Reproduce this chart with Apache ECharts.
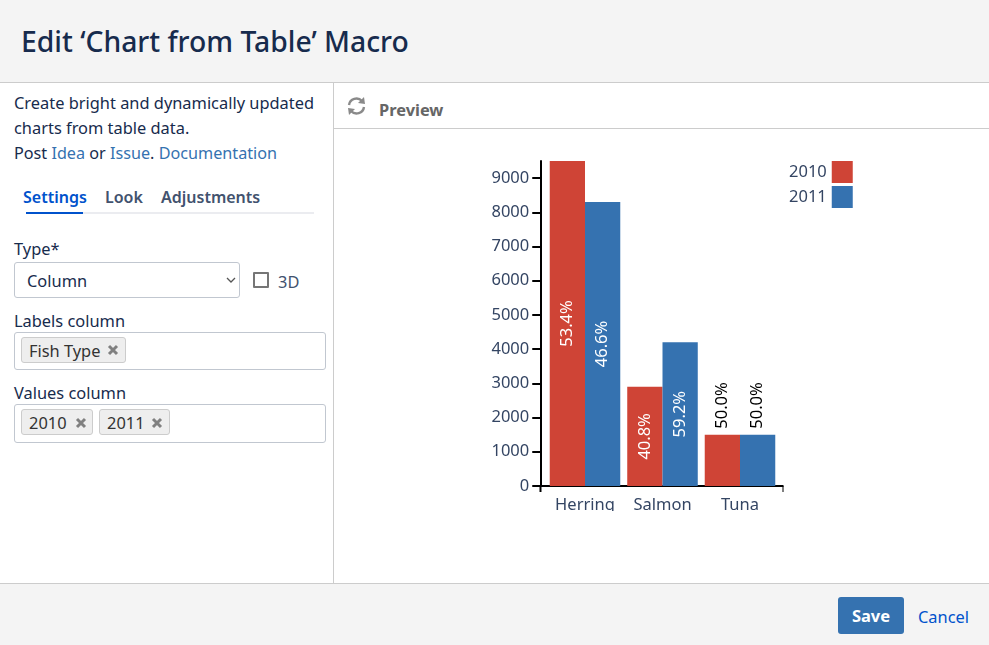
<!DOCTYPE html>
<html>
<head>
<meta charset="UTF-8">
<title>Edit 'Chart from Table' Macro</title>
<script src="https://cdn.jsdelivr.net/npm/echarts@6/dist/echarts.min.js"></script>
<style>
html, body { margin: 0; padding: 0; width: 989px; height: 645px; overflow: hidden; background: #fff; }
body { font-family: "Noto Sans", "Open Sans", sans-serif; font-size: 16.4px; color: #172b4d; position: relative; }
.abs { position: absolute; white-space: nowrap; line-height: 22px; }
.box { position: absolute; box-sizing: border-box; border: 1px solid #c1c7d0; border-radius: 3px; background: #fff; }
.chip { position: absolute; box-sizing: border-box; height: 26px; border: 1px solid #ccc; border-radius: 3px; background: #eee; }
.x { position: absolute; }
a { color: #3572b0; text-decoration: none; }
#main { position: absolute; left: 334px; top: 129px; width: 655px; height: 382px; }
</style>
</head>
<body>
<!-- header -->
<div style="position:absolute;left:0;top:0;width:989px;height:82px;background:#f4f4f4;border-bottom:1px solid #ccc"></div>
<div class="abs" style="left:21px;top:24px;font-size:28.3px;line-height:34px;font-weight:500">Edit ‘Chart from Table’ Macro</div>

<!-- left panel -->
<div style="position:absolute;left:333px;top:83px;width:1px;height:500px;background:#ccc"></div>
<div class="abs" style="left:14px;top:92px">Create bright and dynamically updated</div>
<div class="abs" style="left:14px;top:117px">charts from table data.</div>
<div class="abs" style="left:14px;top:142px;font-size:16.2px">Post <a>Idea</a> or <a>Issue</a>. <a>Documentation</a></div>

<div class="abs" style="left:23px;top:186px;font-size:16px;font-weight:600;color:#0052cc">Settings</div>
<div class="abs" style="left:105px;top:186px;font-size:16px;font-weight:600;color:#42526e">Look</div>
<div class="abs" style="left:161px;top:186px;font-size:16px;font-weight:600;color:#42526e">Adjustments</div>
<div style="position:absolute;left:26px;top:212px;width:288px;height:2px;background:#ebecf0"></div>
<div style="position:absolute;left:26px;top:212px;width:57px;height:2px;background:#0052cc"></div>

<div class="abs" style="left:14px;top:238px">Type*</div>
<div class="box" style="left:14px;top:262px;width:226px;height:36px"></div>
<div class="abs" style="left:27px;top:270px">Column</div>
<svg style="position:absolute;left:226px;top:277px" width="10" height="6"><path d="M1 1 L5 5 L9 1" fill="none" stroke="#555" stroke-width="1.3"/></svg>
<div style="position:absolute;left:253px;top:272px;width:12px;height:12px;border:2px solid #767676;border-radius:1px"></div>
<div class="abs" style="left:278px;top:271px;color:#42526e">3D</div>

<div class="abs" style="left:14px;top:310px">Labels column</div>
<div class="box" style="left:14px;top:332px;width:312px;height:38px"></div>
<div class="chip" style="left:21px;top:337px;width:105px"></div>
<div class="abs" style="left:29px;top:340px;color:#333">Fish Type</div>
<svg class="x" style="left:107px;top:344px" width="12" height="12"><path d="M2 2 L10 10 M10 2 L2 10" stroke="#808080" stroke-width="3"/></svg>

<div class="abs" style="left:14px;top:382px">Values column</div>
<div class="box" style="left:14px;top:404px;width:312px;height:39px"></div>
<div class="chip" style="left:21px;top:409px;width:72px"></div>
<div class="abs" style="left:29px;top:412px;color:#333">2010</div>
<svg class="x" style="left:75px;top:417px" width="12" height="12"><path d="M2 2 L10 10 M10 2 L2 10" stroke="#808080" stroke-width="3"/></svg>
<div class="chip" style="left:99px;top:409px;width:71px"></div>
<div class="abs" style="left:107px;top:412px;color:#333">2011</div>
<svg class="x" style="left:151px;top:417px" width="12" height="12"><path d="M2 2 L10 10 M10 2 L2 10" stroke="#808080" stroke-width="3"/></svg>

<!-- preview -->
<svg style="position:absolute;left:346px;top:96px" width="22" height="20" viewBox="0 0 22 20">
  <path d="M3 9 A7.5 7.5 0 0 1 16 5" fill="none" stroke="#8a8a8a" stroke-width="2.4"/>
  <path d="M12 7 L19 8 L18 1 Z" fill="#8a8a8a"/>
  <path d="M18 11 A7.5 7.5 0 0 1 5 15" fill="none" stroke="#8a8a8a" stroke-width="2.4"/>
  <path d="M9 13 L2 12 L3 19 Z" fill="#8a8a8a"/>
</svg>
<div class="abs" style="left:379px;top:99px;font-weight:700;color:#666">Preview</div>
<div style="position:absolute;left:334px;top:128px;width:655px;height:1px;background:#ccc"></div>

<div id="main"></div>

<!-- footer -->
<div style="position:absolute;left:0;top:583px;width:989px;height:62px;background:#f4f4f4;border-top:1px solid #ccc;box-sizing:border-box"></div>
<div style="position:absolute;left:838px;top:597px;width:66px;height:37px;background:#3572b0;border-radius:3px;color:#fff;font-weight:700;font-size:16.5px;line-height:37px;text-align:center">Save</div>
<div class="abs" style="left:918px;top:606px;color:#0052cc">Cancel</div>

<script type="text/javascript">
var categories = ['Herring', 'Salmon', 'Tuna'];
var values2010 = [9500, 2900, 1500];
var values2011 = [8300, 4200, 1500];
var yTicks = 1000;
var yMax = 9500;

var myChart = echarts.init(document.getElementById('main'));
var uiFont = '"Noto Sans", "Open Sans", sans-serif';

// share of each series within its category, labels sit outside on short bars
function makeData(mine, other) {
    return mine.map(function (v, i) {
        var outside = v < 2000;
        return {
            value: v,
            label: {
                formatter: (v / (v + other[i]) * 100).toFixed(1) + '%',
                color: outside ? '#000' : '#fff',
                position: outside ? 'top' : 'inside',
                align: outside ? 'left' : 'center',
                verticalAlign: 'middle',
                distance: 6,
                rotate: 90,
                fontSize: 16.5,
                fontFamily: uiFont
            }
        };
    });
}

var option = {
    animation: false,
    // labels are cut off by the chart box on purpose, the grid must not shrink for them
    grid: { left: 212.25, top: 32, width: 232.5, height: 325, outerBoundsMode: 'none' },
    legend: {
        orient: 'vertical',
        left: 455,
        top: 32,
        padding: 0,
        align: 'right',
        icon: 'rect',
        itemWidth: 21,
        itemHeight: 22,
        itemGap: 3,
        textStyle: { fontSize: 16.5, color: '#344563', fontFamily: uiFont }
    },
    xAxis: {
        type: 'category',
        data: categories,
        axisLine: { show: false },
        axisTick: { alignWithLabel: true, length: 6, lineStyle: { color: '#000', width: 2 } },
        axisLabel: { interval: 0, fontSize: 16.5, color: '#344563', fontFamily: uiFont, margin: 11 }
    },
    yAxis: {
        type: 'value',
        min: 0,
        max: yMax,
        interval: yTicks,
        offset: 6,
        splitLine: { show: false },
        axisLine: { show: true, lineStyle: { color: '#000', width: 2 } },
        axisTick: { show: true, length: 8, lineStyle: { color: '#000', width: 2 } },
        axisLabel: {
            fontSize: 16.5, color: '#344563', fontFamily: uiFont, margin: 11, showMaxLabel: false,
            formatter: function (v) { return String(v); }
        }
    },
    series: [
        { name: '2010', type: 'bar', barGap: 0, barCategoryGap: '9%', itemStyle: { color: '#cf4436' },
          label: { show: true }, data: makeData(values2010, values2011) },
        { name: '2011', type: 'bar', barGap: 0, barCategoryGap: '9%', itemStyle: { color: '#3572b0' },
          label: { show: true }, data: makeData(values2011, values2010) }
    ],
    // the x axis line runs past the bands on both sides, with small end ticks
    graphic: [
        { type: 'line', shape: { x1: 205, y1: 357, x2: 449.5, y2: 357 }, style: { stroke: '#000', lineWidth: 2 } },
        { type: 'line', shape: { x1: 206.5, y1: 357, x2: 206.5, y2: 363 }, style: { stroke: '#000', lineWidth: 2 } },
        { type: 'line', shape: { x1: 449, y1: 357, x2: 449, y2: 363 }, style: { stroke: '#000', lineWidth: 1 } }
    ]
};

myChart.setOption(option);
</script>
</body>
</html>
